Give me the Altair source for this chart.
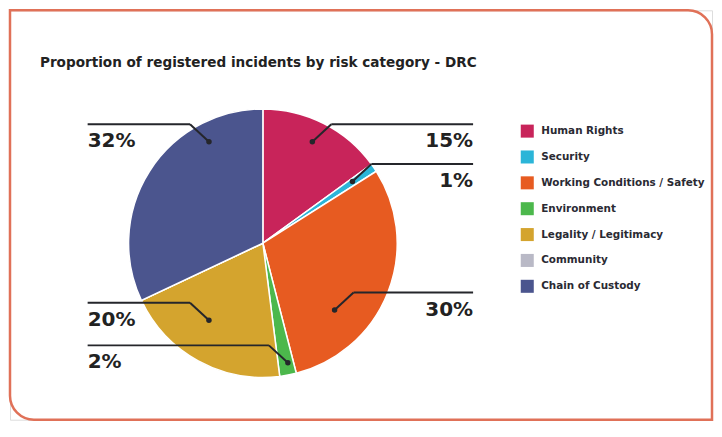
import math
import altair as alt
import pandas as pd

# ---- data ----
categories = [
    "Human Rights",
    "Security",
    "Working Conditions / Safety",
    "Environment",
    "Legality / Legitimacy",
    "Community",
    "Chain of Custody",
]
shares = [15, 1, 30, 2, 20, 0, 32]
colors = ["#c8245a", "#2bb5d8", "#e75b21", "#4cb84c", "#d4a42e", "#b9b9c6", "#4b558e"]
title_text = "Proportion of registered incidents by risk category - DRC"

# ---- callout layout (annotation placement, degrees clockwise from 12 o'clock) ----
callout_angle = [26.0, 55.4, 133.0, 168.2, 215.0, None, 332.0]
callout_radius = [0.84, 0.81, 0.73, 0.91, 0.70, None, 0.855]
callout_side = ["right", "right", "right", "left", "left", None, "left"]

# ---- geometry of the drawing ----
W, H = 703, 410
CX, CY, R = 253.25, 233.25, 134.5
LEFT_EDGE_PX, RIGHT_EDGE_PX = 77.75, 463.75
ELBOW_DX, ELBOW_DY = 19.0, 17.5
LINE = "#25262b"
FONT = "DejaVu Sans"

xs = alt.Scale(domain=[-CX / R, (W - CX) / R], nice=False, zero=False)
ys = alt.Scale(domain=[(CY - H) / R, CY / R], nice=False, zero=False)

pie_df = pd.DataFrame({
    "category": categories,
    "share": shares,
    "idx": list(range(len(categories))),
    "cx": [0.0] * len(categories),
    "cy": [0.0] * len(categories),
})

segs, dots, labels = [], [], []
for cat, v, a, r, side in zip(categories, shares, callout_angle, callout_radius, callout_side):
    if a is None:
        continue
    d = 1 if side == "right" else -1
    px = r * math.sin(math.radians(a))
    py = r * math.cos(math.radians(a))
    ex = px + d * ELBOW_DX / R
    ey = py + ELBOW_DY / R
    edge = ((RIGHT_EDGE_PX if side == "right" else LEFT_EDGE_PX) - CX) / R
    segs.append({"x": px, "y": py, "x2": ex, "y2": ey})
    segs.append({"x": ex, "y": ey, "x2": edge, "y2": ey})
    dots.append({"x": px, "y": py})
    labels.append({"x": edge, "y": ey, "label": f"{v}%", "side": side})

seg_df = pd.DataFrame(segs)
dot_df = pd.DataFrame(dots)
lab_df = pd.DataFrame(labels)

frame = alt.Chart(pd.DataFrame({"a": [0]})).mark_rect(
    fillOpacity=0, stroke="#e07158", strokeWidth=2.5,
    cornerRadiusTopRight=24, cornerRadiusBottomLeft=24,
    cornerRadiusTopLeft=0, cornerRadiusBottomRight=0,
).encode(x=alt.value(0), x2=alt.value(W), y=alt.value(0), y2=alt.value(H))

pie = alt.Chart(pie_df).mark_arc(outerRadius=R, stroke="white", strokeWidth=1.5).encode(
    theta=alt.Theta("share:Q", stack=True),
    order=alt.Order("idx:Q"),
    x=alt.X("cx:Q", scale=xs, axis=None),
    y=alt.Y("cy:Q", scale=ys, axis=None),
    color=alt.Color(
        "category:N",
        scale=alt.Scale(domain=categories, range=colors),
        sort=categories,
        legend=alt.Legend(
            title=None, orient="none", legendX=511, legendY=114,
            symbolType="square", symbolSize=170, symbolStrokeWidth=0,
            symbolOpacity=1,
            labelFont=FONT, labelFontSize=10.4, labelFontWeight="bold",
            labelColor="#2a2a33", labelOffset=7, rowPadding=11.9,
            labelLimit=300,
        ),
    ),
)

lines = alt.Chart(seg_df).mark_rule(color=LINE, strokeWidth=2).encode(
    x=alt.X("x:Q", scale=xs, axis=None), x2="x2:Q",
    y=alt.Y("y:Q", scale=ys, axis=None), y2="y2:Q",
)

pts = alt.Chart(dot_df).mark_circle(size=30, color=LINE, opacity=1).encode(
    x=alt.X("x:Q", scale=xs, axis=None),
    y=alt.Y("y:Q", scale=ys, axis=None),
)

def label_layer(side, align):
    return alt.Chart(lab_df).transform_filter(alt.datum.side == side).mark_text(
        align=align, baseline="alphabetic", dy=23, font=FONT, fontSize=20,
        fontWeight="bold", color="#222222",
    ).encode(
        x=alt.X("x:Q", scale=xs, axis=None),
        y=alt.Y("y:Q", scale=ys, axis=None),
        text="label:N",
    )

chart = alt.layer(
    frame, pie, lines, pts, label_layer("left", "left"), label_layer("right", "right")
).properties(
    width=W, height=H, padding=0,
    title=alt.TitleParams(
        text=title_text, anchor="start", frame="group", orient="top",
        offset=-61, dx=30, font=FONT, fontSize=13.6, fontWeight="bold", color="#222222",
    ),
).configure_view(stroke=None).configure(background="white")

chart.save("out.html", embed_options={"renderer": "svg", "actions": False})
